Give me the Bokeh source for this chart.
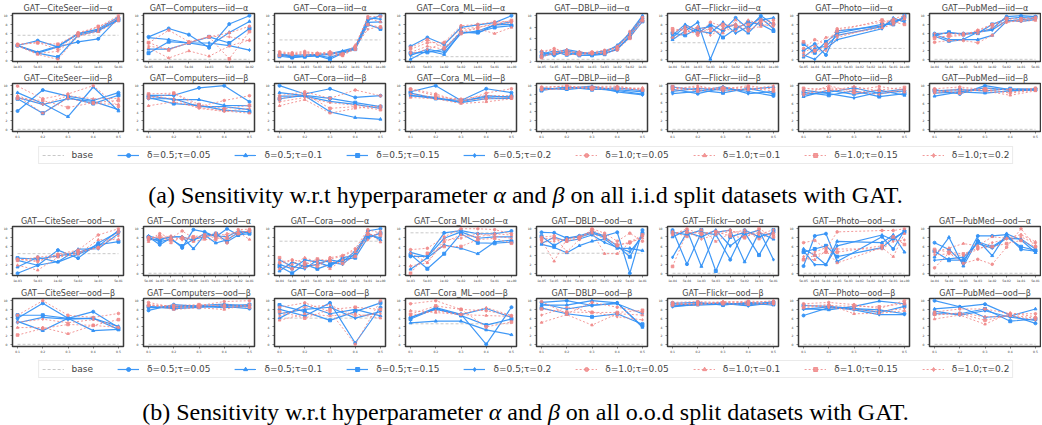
from bokeh.plotting import figure
from bokeh.layouts import column, row
from bokeh.models import ColumnDataSource, FixedTicker, Legend, LegendItem, Div
from bokeh.embed import file_html
from bokeh.resources import INLINE

# ---------------- data ----------------
DATASETS = ["CiteSeer", "Computers", "Cora", "Cora_ML", "DBLP", "Flickr", "Photo", "PubMed"]
SERIES_LABELS = ["δ=0.5;τ=0.05", "δ=0.5;τ=0.1", "δ=0.5;τ=0.15", "δ=0.5;τ=0.2",
                 "δ=1.0;τ=0.05", "δ=1.0;τ=0.1", "δ=1.0;τ=0.15", "δ=1.0;τ=0.2"]
BETA_TICKS = ["0.1", "0.2", "0.3", "0.4", "0.5"]

IID_ALPHA_TICKS = [
    ["1e-03", "5e-03", "1e-02", "5e-02", "1e-01", "5e-01"],
    ["5e-05", "1e-04", "5e-04", "1e-03", "5e-03", "1e-02"],
    ["1e-04", "5e-04", "1e-03", "5e-03", "1e-02", "5e-02", "1e-01", "5e-01", "1e+00"],
    ["1e-03", "5e-03", "1e-02", "5e-02", "1e-01", "5e-01", "1e+00"],
    ["1e-05", "5e-05", "1e-04", "5e-04", "1e-03", "5e-03", "1e-02", "5e-02", "1e-01"],
    ["1e-04", "5e-04", "1e-03", "5e-03", "1e-02", "5e-02", "1e-01", "5e-01", "1e+00"],
    ["5e-05", "1e-04", "5e-04", "1e-03", "5e-03", "1e-02", "5e-02", "1e-01", "5e-01", "1e+00"],
    ["1e-04", "5e-04", "1e-03", "5e-03", "1e-02", "5e-02", "1e-01", "5e-01"],
]
OOD_ALPHA_TICKS = [
    ["1e-03", "5e-03", "1e-02", "5e-02", "1e-01", "5e-01"],
    ["5e-06", "1e-05", "5e-05", "1e-04", "5e-04", "1e-03", "5e-03", "1e-02", "5e-02", "1e-01"],
    ["1e-04", "5e-04", "1e-03", "5e-03", "1e-02", "5e-02", "1e-01", "5e-01", "1e+00"],
    ["1e-03", "5e-03", "1e-02", "5e-02", "1e-01", "5e-01", "1e+00"],
    ["1e-05", "5e-05", "1e-04", "5e-04", "1e-03", "5e-03", "1e-02", "5e-02", "1e-01"],
    ["1e-04", "5e-04", "1e-03", "5e-03", "1e-02", "5e-02", "1e-01", "5e-01"],
    ["5e-05", "1e-04", "5e-04", "1e-03", "5e-03", "1e-02", "5e-02", "1e-01", "5e-01", "1e+00"],
    ["1e-04", "5e-04", "1e-03", "5e-03", "1e-02", "5e-02", "1e-01", "5e-01"],
]

BASE_IID_ALPHA = [5.6, 0.0, 4.5, 0.6, 2.3, 3.8, 2.5, 0.0]
BASE_IID_BETA = [0.0, 0.0, 0.0, 0.0, 0.0, 0.0, 0.0, 0.0]
BASE_OOD_ALPHA = [4.4, 0.0, 7.2, 9.1, 4.5, 0.0, 0.0, 0.0]
BASE_OOD_BETA = [0.0, 0.0, 6.0, 4.7, 0.0, 0.0, 0.0, 0.0]

# ---- i.i.d, alpha ----
IID_ALPHA_CITESEER = [
    [3.3, 4.4, 3.0, 4.1, 4.8, 9.5], [3.3, 1.6, 3.0, 5.9, 6.8, 9.3],
    [3.3, 1.6, 0.7, 5.6, 6.6, 9.0], [3.3, 1.8, 3.2, 6.0, 7.0, 9.7],
    [3.6, 4.0, 2.4, 6.2, 7.4, 10.0], [3.2, 1.3, 0.2, 5.4, 6.4, 8.8],
    [3.5, 3.9, 3.6, 5.9, 7.6, 9.2], [3.4, 1.5, 2.0, 5.6, 6.8, 9.6]]
IID_ALPHA_COMPUTERS = [
    [5.1, 7.0, 5.6, 2.6, 8.0, 9.9], [2.3, 2.3, 3.7, 3.0, 6.1, 8.6],
    [1.4, 4.0, 3.7, 5.1, 3.7, 7.0], [4.9, 4.5, 3.7, 3.7, 3.1, 2.1],
    [3.7, 6.6, 4.0, 5.1, 6.0, 7.5], [2.6, 0.3, 1.9, 0.7, 3.0, 4.4],
    [3.8, 2.1, 3.8, 5.1, 0.1, 6.3], [3.0, 2.3, 3.7, 5.2, 5.1, 4.2]]
IID_ALPHA_CORA = [
    [1.2, 0.6, 0.8, 1.0, 0.5, 1.6, 2.6, 9.0, 10.0], [1.0, 0.9, 0.8, 1.0, 1.2, 1.8, 2.6, 8.5, 8.6],
    [0.8, 0.5, 0.7, 0.9, 0.1, 1.5, 2.4, 8.0, 7.0], [1.3, 1.0, 1.1, 1.2, 1.4, 2.0, 2.8, 9.5, 9.2],
    [1.8, 1.6, 1.9, 1.5, 1.8, 1.4, 3.0, 9.8, 9.8], [1.5, 1.3, 1.7, 1.4, 1.6, 1.2, 3.3, 9.4, 8.6],
    [1.0, 1.2, 1.4, 1.3, 1.5, 1.0, 2.4, 8.0, 7.4], [1.6, 1.4, 1.0, 1.2, 1.1, 0.9, 2.9, 6.9, 7.6]]
IID_ALPHA_CORA_ML = [
    [3.0, 5.0, 3.4, 7.3, 7.9, 8.4, 10.0], [0.0, 2.0, 1.1, 6.2, 6.0, 7.9, 8.0],
    [1.4, 1.6, 2.3, 6.2, 6.2, 7.3, 7.7], [0.9, 2.3, 1.6, 5.9, 6.5, 7.9, 8.6],
    [2.3, 3.8, 3.9, 7.7, 8.0, 8.6, 8.7], [1.6, 3.0, 2.3, 6.6, 7.0, 5.9, 7.3],
    [2.7, 4.5, 2.7, 5.9, 7.3, 8.2, 8.9], [1.3, 2.3, 3.7, 7.0, 7.3, 8.0, 8.4]]
IID_ALPHA_DBLP = [
    [3.6, 3.0, 3.8, 3.3, 3.2, 3.4, 4.0, 6.5, 9.5], [3.2, 3.8, 3.0, 3.5, 3.4, 3.8, 4.5, 7.0, 10.0],
    [2.8, 3.3, 3.5, 3.0, 3.0, 3.2, 4.2, 6.2, 9.0], [3.0, 3.5, 4.0, 3.6, 3.1, 3.5, 4.8, 6.8, 9.8],
    [3.4, 4.2, 3.6, 3.4, 3.6, 3.9, 4.4, 7.2, 9.7], [3.0, 3.2, 4.0, 3.2, 3.3, 3.6, 4.6, 6.4, 9.3],
    [2.6, 3.6, 3.2, 3.1, 3.5, 3.3, 4.0, 6.0, 9.1], [3.8, 4.0, 3.4, 3.7, 3.2, 3.7, 4.3, 6.7, 9.6]]
IID_ALPHA_FLICKR = [
    [5.0, 7.5, 6.0, 8.0, 6.5, 9.5, 7.0, 10.0, 8.0], [4.5, 6.5, 8.5, 0.0, 7.0, 8.0, 6.0, 9.0, 9.5],
    [6.0, 5.5, 7.0, 7.5, 5.0, 7.0, 8.5, 8.0, 6.5], [5.5, 8.0, 6.5, 6.0, 8.5, 6.0, 7.5, 9.5, 7.0],
    [6.5, 7.0, 5.5, 8.5, 7.5, 8.0, 6.5, 8.5, 9.0], [5.0, 6.0, 7.5, 6.5, 6.0, 9.0, 7.0, 7.5, 8.5],
    [7.0, 6.5, 6.0, 7.0, 8.0, 7.5, 8.0, 9.0, 8.0], [6.0, 7.5, 7.0, 5.5, 7.0, 6.5, 9.0, 8.0, 7.5]]
IID_ALPHA_PHOTO = [
    [2.0, 3.5, 1.0, 6.5, None, None, None, 7.6, 8.5, 9.5],
    [0.5, 2.5, 3.0, 5.5, None, None, None, 7.5, 9.0, 9.0],
    [3.5, 1.5, 4.0, 6.0, None, None, None, 8.0, 8.0, 10.0],
    [1.0, 0.0, 2.5, 4.5, None, None, None, 7.0, 9.5, 8.5],
    [2.5, 4.5, 3.5, 7.0, None, None, None, 8.5, 9.0, 9.5],
    [1.5, 3.0, 5.0, 5.5, None, None, None, 7.2, 8.0, 9.2],
    [4.0, 2.0, 3.0, 6.5, None, None, None, 9.0, 8.5, 8.0],
    [0.8, 1.8, 2.0, 5.0, None, None, None, 7.8, 9.3, 10.0]]
IID_ALPHA_PUBMED = [
    [5.9, 6.0, 5.9, 6.2, 7.0, 9.8, 10.0, 9.8], [5.3, 4.1, 4.5, 4.5, 5.5, 8.7, 9.1, 9.4],
    [5.5, 6.2, 5.7, 6.0, 8.0, 9.3, 9.6, 9.7], [5.7, 4.5, 4.6, 6.2, 6.7, 8.9, 8.7, 9.1],
    [3.9, 4.3, 4.3, 3.8, 5.5, 9.1, 8.9, 9.3], [5.2, 5.2, 5.5, 6.7, 8.0, 8.6, 8.7, 8.9],
    [4.8, 5.5, 5.7, 6.5, 7.9, 9.4, 9.3, 9.6], [5.9, 5.9, 6.0, 5.9, 7.3, 8.4, 9.1, 9.4]]

# ---- i.i.d, beta ----
IID_BETA_CITESEER = [
    [4.2, 9.0, 7.6, 6.6, 8.4], [8.4, 5.9, 2.9, 9.7, 4.2], [7.0, 3.7, 7.3, 5.9, 7.8], [7.3, 5.7, 7.0, 6.4, 4.5],
    [9.9, 7.0, 8.1, 10.0, 5.2], [7.6, 3.7, 7.1, 5.9, 5.7], [7.1, 6.6, 5.0, 6.1, 6.6], [7.7, 5.7, 7.7, 7.0, 7.1]]
IID_BETA_COMPUTERS = [
    [7.8, 7.8, 9.5, 10.0, 6.3], [7.7, 6.8, 6.8, 5.5, 5.4], [7.3, 5.9, 5.5, 4.4, 4.0], [7.0, 7.0, 5.2, 5.2, 4.5],
    [7.1, 8.2, 5.2, 6.6, 7.7], [5.4, 6.3, 5.0, 4.2, 3.7], [8.1, 8.3, 5.7, 4.7, 5.5], [7.6, 7.0, 4.8, 4.1, 4.8]]
IID_BETA_CORA = [
    [10.0, 8.1, 9.3, 7.3, 7.7], [8.4, 7.7, 4.0, 2.7, 2.3], [7.0, 7.8, 7.1, 6.1, 5.2], [7.6, 7.6, 6.4, 5.7, 4.8],
    [7.7, 8.6, 7.1, 9.0, 7.7], [5.4, 6.8, 3.7, 4.8, 5.4], [7.0, 8.1, 4.8, 5.2, 4.5], [6.3, 7.3, 6.1, 5.5, 5.0]]
IID_BETA_CORA_ML = [
    [8.6, 10.0, 6.6, 9.3, 8.4], [7.8, 7.0, 6.3, 7.7, 7.3], [8.3, 7.1, 6.6, 7.3, 7.6], [7.7, 7.3, 6.1, 7.0, 7.1],
    [9.3, 8.1, 6.3, 8.3, 9.3], [7.3, 7.0, 5.9, 6.3, 7.0], [9.1, 7.7, 6.6, 7.0, 7.3], [8.1, 7.3, 7.0, 7.7, 7.7]]
IID_BETA_DBLP = [
    [9.0, 9.5, 9.2, 8.8, 8.0], [9.4, 9.0, 9.6, 9.0, 8.5], [8.8, 9.6, 9.0, 9.4, 8.8], [9.2, 9.3, 9.8, 8.5, 7.8],
    [9.6, 9.8, 9.4, 9.6, 9.2], [9.0, 9.2, 9.5, 9.1, 9.4], [9.3, 9.9, 9.1, 9.3, 8.9], [8.9, 9.4, 9.7, 9.8, 9.0]]
IID_BETA_FLICKR = [
    [9.0, 8.0, 9.3, 8.5, 7.5], [8.5, 9.2, 8.8, 9.0, 9.5], [9.5, 8.8, 8.2, 9.2, 8.0], [8.0, 8.5, 9.6, 8.0, 8.5],
    [9.2, 9.4, 9.0, 9.8, 9.0], [8.8, 9.0, 9.5, 8.8, 9.3], [9.6, 8.6, 9.2, 9.4, 8.6], [9.0, 9.8, 8.6, 9.0, 9.8]]
IID_BETA_PHOTO = [
    [8.0, 8.5, 9.5, 8.2, 8.8], [7.5, 9.0, 8.0, 9.0, 7.8], [8.5, 7.8, 8.8, 7.5, 8.2], [9.0, 8.2, 7.2, 8.5, 9.2],
    [8.8, 9.5, 9.0, 9.8, 9.0], [8.2, 8.8, 9.8, 8.8, 8.5], [9.4, 9.2, 8.4, 9.0, 9.6], [7.8, 10.0, 8.6, 8.0, 9.3]]
IID_BETA_PUBMED = [
    [9.1, 8.1, 10.0, 9.1, 9.3], [7.6, 8.6, 8.3, 8.8, 9.0], [8.8, 9.1, 8.8, 9.3, 9.1], [8.3, 8.6, 9.5, 9.0, 9.1],
    [9.3, 9.7, 9.1, 8.3, 9.0], [8.3, 9.0, 8.8, 7.8, 8.8], [9.0, 8.3, 9.3, 9.1, 9.4], [8.6, 9.3, 9.0, 8.5, 9.3]]

# ---- o.o.d, alpha ----
OOD_ALPHA_CITESEER = [
    [0.0, 1.8, 5.2, 3.4, 6.8, 9.3], [1.4, 3.6, 2.5, 4.3, 6.1, 9.6],
    [3.4, 3.2, 3.9, 4.6, 6.4, 7.1], [2.9, 1.8, 2.6, 5.4, 5.5, 8.9],
    [3.2, 2.6, 4.3, 5.2, 8.6, 10.0], [1.8, 0.7, 3.6, 4.3, 7.5, 7.6],
    [2.9, 3.6, 4.1, 4.8, 5.7, 9.3], [3.1, 2.9, 3.8, 4.5, 5.9, 8.4]]
OOD_ALPHA_COMPUTERS = [
    [8.2, 6.4, 7.9, 5.7, 9.8, 9.3, 8.2, 10.0, 8.6, 9.5], [7.6, 7.5, 8.2, 8.2, 5.5, 8.6, 6.8, 7.5, 9.1, 9.3],
    [8.1, 7.1, 7.6, 6.1, 7.6, 8.2, 8.9, 7.1, 8.6, 8.9], [8.4, 7.6, 8.1, 8.2, 7.4, 8.9, 8.4, 8.2, 9.5, 9.1],
    [7.5, 8.9, 7.9, 9.5, 7.9, 8.1, 8.6, 6.8, 9.8, 9.9], [7.1, 8.6, 6.8, 8.2, 7.1, 7.6, 7.5, 8.9, 9.2, 7.6],
    [7.9, 8.2, 7.5, 7.9, 8.2, 8.6, 7.9, 7.9, 8.9, 9.6], [8.2, 7.9, 8.4, 7.5, 8.1, 8.1, 9.1, 8.4, 9.5, 9.3]]
OOD_ALPHA_CORA = [
    [2.0, 1.0, 3.0, 2.5, 1.5, 3.5, 4.0, 9.5, 10.0], [0.5, 2.5, 1.5, 2.0, 3.0, 2.5, 5.0, 9.0, 7.5],
    [1.5, 0.0, 2.0, 1.0, 2.0, 3.0, 3.5, 8.0, 9.0], [3.0, 1.5, 1.0, 3.0, 2.5, 2.0, 4.5, 8.5, 8.0],
    [2.5, 3.0, 2.5, 1.5, 3.5, 4.0, 5.5, 9.8, 9.0], [1.0, 2.0, 3.5, 2.5, 1.0, 3.0, 4.8, 9.2, 7.0],
    [3.5, 1.0, 2.0, 3.2, 2.8, 2.2, 3.8, 8.8, 8.5], [2.2, 2.8, 1.2, 2.0, 3.2, 3.8, 5.2, 7.5, 9.5]]
OOD_ALPHA_CORA_ML = [
    [3.9, 3.9, 9.1, 9.6, 8.9, 8.9, 9.5], [1.1, 3.6, 6.4, 5.7, 4.5, 7.1, 7.5],
    [4.3, 1.2, 4.5, 8.9, 6.9, 6.8, 7.1], [4.8, 3.8, 7.9, 9.3, 7.9, 8.2, 8.2],
    [5.4, 5.7, 8.2, 10.0, 10.0, 9.8, 8.9], [1.8, 2.5, 7.1, 8.6, 8.2, 8.9, 8.6],
    [0.2, 4.6, 6.1, 6.1, 7.6, 7.9, 6.8], [4.6, 2.6, 7.5, 7.9, 8.9, 8.4, 7.9]]
OOD_ALPHA_DBLP = [
    [9.2, 9.1, 7.9, 8.4, 9.3, 8.4, 9.2, 0.0, 9.7], [6.5, 5.8, 4.6, 6.2, 7.2, 7.7, 5.6, 5.6, 5.1],
    [8.3, 6.2, 7.9, 8.1, 9.0, 8.1, 6.2, 3.7, 9.0], [6.7, 8.1, 7.2, 7.7, 8.6, 6.9, 5.8, 4.8, 8.3],
    [8.1, 8.4, 4.8, 7.6, 10.0, 9.0, 7.2, 9.0, 7.2], [7.4, 2.7, 7.7, 8.3, 9.3, 4.4, 4.4, 6.9, 7.9],
    [7.7, 7.9, 7.2, 7.9, 9.7, 8.3, 6.2, 7.0, 8.6], [7.0, 7.2, 7.6, 8.1, 9.0, 7.7, 6.5, 6.7, 8.4]]
OOD_ALPHA_FLICKR = [
    [9.5, 2.0, 9.0, 8.5, 3.0, 9.5, 8.0, 9.0], [8.0, 9.5, 1.5, 9.0, 9.5, 2.5, 9.0, 7.5],
    [9.0, 8.5, 9.5, 0.5, 8.0, 9.0, 4.0, 9.5], [3.5, 9.0, 8.0, 9.5, 6.0, 8.5, 9.5, 3.0],
    [8.5, 9.8, 8.5, 9.0, 9.5, 8.0, 9.0, 8.5], [9.2, 8.0, 9.6, 7.0, 8.8, 9.5, 7.5, 9.0],
    [1.5, 9.0, 8.8, 9.2, 8.2, 7.8, 9.8, 8.0], [8.8, 9.3, 7.5, 8.5, 9.2, 9.0, 8.5, 9.6]]
OOD_ALPHA_PHOTO = [
    [1.6, 8.3, 8.8, 2.6, None, None, None, 8.1, 5.4, 9.5],
    [5.4, 4.0, 1.9, 7.1, None, None, None, 6.8, 8.5, 4.7],
    [4.7, 5.4, 6.1, 3.7, None, None, None, 5.7, 7.8, 9.2],
    [5.0, 1.9, 1.9, 6.1, None, None, None, 8.5, 7.4, 9.4],
    [6.8, 7.3, 5.4, 9.2, None, None, None, 9.5, 9.5, 9.9],
    [3.3, 3.0, 5.0, 2.3, None, None, None, 5.7, 3.7, 8.8],
    [3.0, 4.0, 4.7, 4.7, None, None, None, 6.1, 8.1, 6.4],
    [3.7, 4.7, 5.7, 5.4, None, None, None, 5.4, 7.1, 7.4]]
OOD_ALPHA_PUBMED = [
    [6.8, 5.3, 2.2, 8.3, 8.3, 8.6, 5.3, 4.9], [3.6, 8.0, 1.6, 7.4, 3.9, 8.8, 7.4, 4.6],
    [4.9, 2.9, 2.9, 7.0, 5.9, 8.0, 5.9, 5.1], [2.9, 3.2, 3.6, 6.6, 5.6, 7.8, 7.6, 5.4],
    [1.2, 4.5, 2.2, 3.1, 2.0, 5.8, 9.9, 5.9], [4.7, 5.6, 6.6, 6.1, 8.1, 7.8, 8.6, 7.0],
    [5.3, 4.7, 4.3, 5.6, 5.9, 6.6, 7.3, 5.9], [4.1, 4.3, 3.9, 5.3, 6.8, 7.6, 8.1, 6.6]]

# ---- o.o.d, beta ----
OOD_BETA_CITESEER = [
    [5.9, 9.3, 5.9, 7.4, 3.8], [5.2, 3.1, 5.9, 3.1, 3.4], [6.6, 6.6, 5.9, 5.9, 3.4], [4.9, 6.1, 5.7, 5.9, 4.1],
    [6.6, 9.9, 6.6, 6.1, 7.0], [3.8, 3.8, 2.4, 4.3, 3.8], [2.1, 3.6, 4.5, 4.3, 5.6], [5.0, 5.7, 4.9, 5.6, 3.9]]
OOD_BETA_COMPUTERS = [
    [7.7, 9.0, 8.6, 8.6, 8.1], [8.4, 8.6, 8.8, 9.1, 8.6], [8.6, 8.1, 8.4, 8.8, 9.0], [8.3, 8.4, 8.6, 8.3, 8.8],
    [9.5, 8.4, 8.8, 9.7, 9.9], [9.0, 7.9, 8.3, 7.9, 9.1], [8.8, 8.8, 9.0, 8.6, 8.4], [9.1, 8.3, 8.6, 9.0, 8.7]]
OOD_BETA_CORA = [
    [8.0, 6.5, 9.5, 0.3, 8.5], [6.0, 9.0, 7.0, 8.0, 6.5], [9.0, 7.5, 5.5, 7.5, 9.5], [7.0, 8.0, 8.5, 6.0, 7.5],
    [8.5, 9.5, 7.5, 0.0, 10.0], [5.5, 7.0, 6.5, 7.0, 6.0], [7.5, 6.0, 8.0, 8.5, 8.0], [6.5, 8.5, 9.0, 6.5, 7.0]]
OOD_BETA_CORA_ML = [
    [6.1, 8.4, 6.9, 0.0, 8.5], [4.9, 5.3, 5.3, 3.3, 2.2], [5.8, 8.2, 6.6, 4.4, 5.8], [6.2, 8.0, 6.8, 8.2, 6.2],
    [9.3, 10.0, 8.0, 7.7, 6.6], [7.7, 7.3, 6.8, 6.6, 6.4], [6.9, 8.8, 8.0, 4.0, 5.1], [6.6, 7.7, 6.9, 8.4, 6.6]]
OOD_BETA_DBLP = [
    [9.6, 10.0, 8.9, 9.5, 4.1], [9.0, 9.0, 10.0, 9.5, 3.9], [8.3, 7.0, 6.3, 7.0, 4.6], [9.3, 8.1, 9.0, 9.3, 7.0],
    [9.8, 7.0, 9.6, 8.5, 7.4], [5.0, 6.8, 4.4, 7.0, 6.7], [8.1, 7.4, 7.3, 7.3, 7.8], [6.7, 8.5, 7.4, 6.3, 5.6]]
OOD_BETA_FLICKR = [
    [9.0, 9.3, 9.5, 9.0, 9.8], [8.8, 9.0, 9.2, 9.4, 9.0], [9.4, 9.6, 9.0, 9.6, 9.3], [8.6, 9.2, 9.4, 8.8, 9.5],
    [9.6, 9.8, 9.6, 9.9, 9.7], [9.2, 9.0, 9.8, 9.5, 10.0], [9.0, 9.5, 9.3, 9.2, 9.4], [9.4, 9.3, 9.7, 9.6, 9.2]]
OOD_BETA_PHOTO = [
    [6.6, 8.4, 8.2, 7.9, 7.0], [8.2, 7.9, 8.7, 9.9, 9.3], [8.9, 8.7, 8.2, 7.3, 8.7], [8.0, 8.6, 7.9, 6.8, 6.8],
    [9.3, 9.6, 9.1, 8.2, 10.0], [8.7, 9.1, 7.0, 7.1, 7.7], [8.4, 8.9, 8.7, 8.6, 9.3], [9.1, 8.4, 8.0, 7.5, 8.2]]
OOD_BETA_PUBMED = [
    [10.0, 8.6, 9.2, 6.7, 4.8], [8.1, 8.6, 6.2, 6.5, 8.1], [7.0, 7.0, 8.1, 5.3, 5.8], [7.6, 6.7, 7.7, 6.2, 5.5],
    [7.4, 8.1, 8.1, 7.0, 7.0], [5.8, 6.7, 4.6, 7.2, 6.3], [6.9, 7.0, 5.5, 6.7, 6.0], [6.7, 7.2, 6.3, 6.5, 5.6]]

IID_ALPHA = [IID_ALPHA_CITESEER, IID_ALPHA_COMPUTERS, IID_ALPHA_CORA, IID_ALPHA_CORA_ML,
             IID_ALPHA_DBLP, IID_ALPHA_FLICKR, IID_ALPHA_PHOTO, IID_ALPHA_PUBMED]
IID_BETA = [IID_BETA_CITESEER, IID_BETA_COMPUTERS, IID_BETA_CORA, IID_BETA_CORA_ML,
            IID_BETA_DBLP, IID_BETA_FLICKR, IID_BETA_PHOTO, IID_BETA_PUBMED]
OOD_ALPHA = [OOD_ALPHA_CITESEER, OOD_ALPHA_COMPUTERS, OOD_ALPHA_CORA, OOD_ALPHA_CORA_ML,
             OOD_ALPHA_DBLP, OOD_ALPHA_FLICKR, OOD_ALPHA_PHOTO, OOD_ALPHA_PUBMED]
OOD_BETA = [OOD_BETA_CITESEER, OOD_BETA_COMPUTERS, OOD_BETA_CORA, OOD_BETA_CORA_ML,
            OOD_BETA_DBLP, OOD_BETA_FLICKR, OOD_BETA_PHOTO, OOD_BETA_PUBMED]

CAPTION_A = "(a) Sensitivity w.r.t hyperparameter <i>α</i> and <i>β</i> on all i.i.d split datasets with GAT."
CAPTION_B = "(b) Sensitivity w.r.t hyperparameter <i>α</i> and <i>β</i> on all o.o.d split datasets with GAT."

# ---------------- style ----------------
BLUE = "#3592f5"
RED = "#f08888"
BASE_COLOR = "#c8c8c8"
MARKERS = ["circle", "triangle", "square", "diamond"]
FONT = "DejaVu Sans"
PITCH = 131
FRAME_W = 111
NAN = float("nan")


def style_series(k):
    if k < 4:
        return dict(color=BLUE, lw=1.2, dash="solid", alpha=0.95, size=3.0)
    return dict(color=RED, lw=1.0, dash="2 2", alpha=0.85, size=2.6)


def make_panel(title, ticks, series, base, idx, height, top, bottom, standoff):
    n = len(ticks)
    left = 12
    right = PITCH - left - FRAME_W if idx < 7 else 1
    p = figure(width=left + FRAME_W + right, height=height, output_backend="svg",
               toolbar_location=None, min_border_left=left, min_border_right=right,
               min_border_top=top, min_border_bottom=bottom, title=title)
    xs = list(range(n))
    p.line(xs, [base] * n, color=BASE_COLOR, line_width=1.0, line_dash="3 2")
    for k, ys in enumerate(series):
        px = [i for i, y in enumerate(ys) if y is not None]
        py = [y for y in ys if y is not None]
        st = style_series(k)
        src = ColumnDataSource(dict(x=px, y=py))
        p.line("x", "y", source=src, color=st["color"], line_width=st["lw"],
               line_dash=st["dash"], line_alpha=st["alpha"])
        p.scatter("x", "y", source=src, marker=MARKERS[k % 4], size=st["size"],
                  color=st["color"], alpha=st["alpha"])
    p.xaxis.ticker = FixedTicker(ticks=xs)
    p.xaxis.major_label_overrides = {i: t for i, t in enumerate(ticks)}
    p.yaxis.ticker.desired_num_ticks = 6
    for ax in (p.xaxis[0], p.yaxis[0]):
        ax.axis_line_color = None
        ax.major_tick_in = 0
        ax.major_tick_out = 2
        ax.major_tick_line_width = 0.6
        ax.major_tick_line_color = "#333333"
        ax.minor_tick_line_color = None
        ax.major_label_text_font_size = "3px"
        ax.major_label_text_font = FONT
        ax.major_label_text_color = "#333333"
        ax.major_label_standoff = 1
    p.xgrid.visible = False
    p.ygrid.visible = False
    p.outline_line_color = "#3a3a3a"
    p.outline_line_width = 1.5
    p.title.text_font = FONT
    p.title.text_font_size = "8px"
    p.title.text_font_style = "normal"
    p.title.align = "center"
    p.title.standoff = standoff
    p.background_fill_color = "white"
    return p


def make_row(kind, sym, ticks_list, data_list, base_list, height, top, bottom, standoff=2):
    figs = []
    for i, ds in enumerate(DATASETS):
        title = f"GAT—{ds}—{kind}—{sym}"
        figs.append(make_panel(title, ticks_list[i], data_list[i], base_list[i], i,
                               height, top, bottom, standoff))
    return row(*figs, spacing=0)


def make_legend_fig(h):
    p = figure(width=1041, height=h, output_backend="svg", toolbar_location=None,
               min_border_left=10, min_border_right=0, min_border_top=0, min_border_bottom=0,
               x_range=(0, 1), y_range=(0, 1))
    p.axis.visible = False
    p.xgrid.visible = False
    p.ygrid.visible = False
    p.outline_line_color = None
    items = []
    r = p.line([NAN], [NAN], color=BASE_COLOR, line_width=1.0, line_dash="3 2")
    items.append(LegendItem(label="base", renderers=[r]))
    for k, lab in enumerate(SERIES_LABELS):
        st = style_series(k)
        l = p.line([NAN], [NAN], color=st["color"], line_width=st["lw"],
                   line_dash=st["dash"], line_alpha=st["alpha"])
        s = p.scatter([NAN], [NAN], marker=MARKERS[k % 4], size=st["size"],
                      color=st["color"], alpha=st["alpha"])
        items.append(LegendItem(label=lab, renderers=[l, s]))
    leg = Legend(items=items, orientation="horizontal", location="center",
                 label_text_font=FONT, label_text_font_size="9px",
                 glyph_width=22, glyph_height=10, label_height=10, label_standoff=8,
                 spacing=24, padding=3, margin=0,
                 border_line_color="#d5d5d5", border_line_width=1,
                 background_fill_color="white", background_fill_alpha=1.0)
    p.add_layout(leg, "center")
    return p


def make_caption(html, h, pad):
    text = (f'<div style="width:1041px;height:{h}px;padding-top:{pad}px;padding-left:10px;'
            f'box-sizing:border-box;text-align:center;font-family:\'Liberation Serif\',serif;'
            f'font-size:24px;line-height:24px;color:#000;white-space:nowrap;">{html}</div>')
    return Div(text=text, width=1041, height=h, margin=0)


layout = column(
    make_row("iid", "α", IID_ALPHA_TICKS, IID_ALPHA, BASE_IID_ALPHA, 70, 13, 7),
    make_row("iid", "β", [BETA_TICKS] * 8, IID_BETA, BASE_IID_BETA, 70, 13, 8),
    make_legend_fig(30),
    make_caption(CAPTION_A, 42, 13),
    make_row("ood", "α", OOD_ALPHA_TICKS, OOD_ALPHA, BASE_OOD_ALPHA, 72, 14, 8, 1),
    make_row("ood", "β", [BETA_TICKS] * 8, OOD_BETA, BASE_OOD_BETA, 71, 14, 8, 1),
    make_legend_fig(28),
    make_caption(CAPTION_B, 41, 17),
    spacing=0,
)

open("out.html", "w").write(file_html(layout, INLINE))
